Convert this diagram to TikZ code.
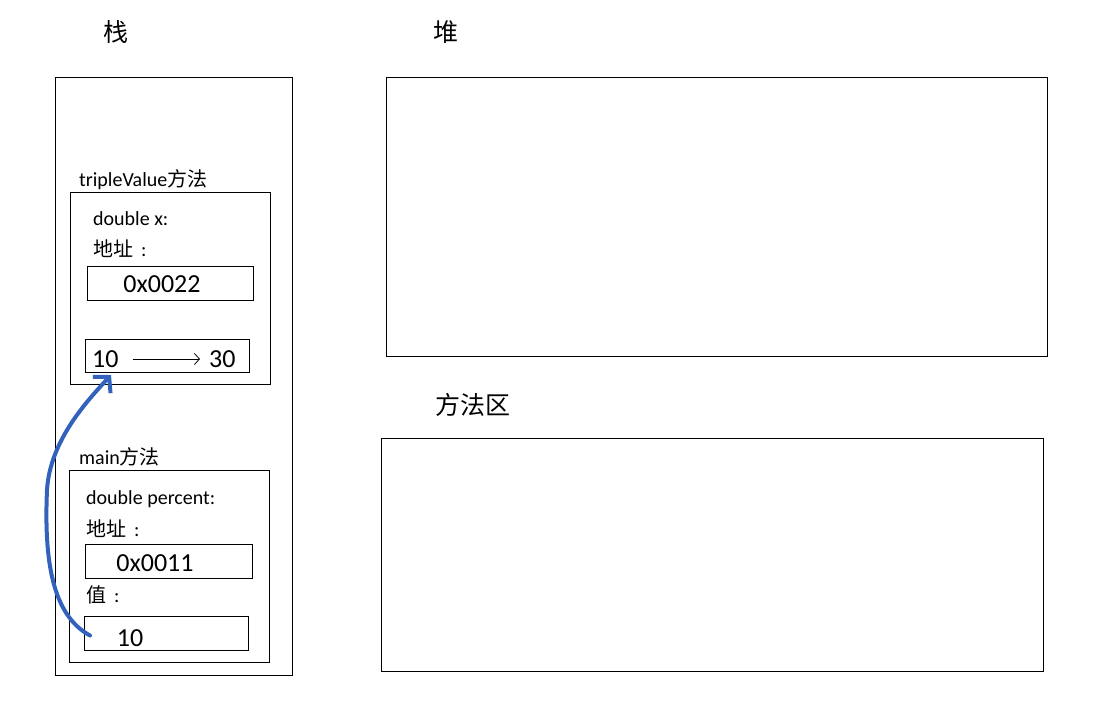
\documentclass[tikz,border=0pt]{standalone}
\usepackage{fontspec}
\setmainfont{Carlito}
\newfontfamily\cjk{Noto Sans CJK SC}
\usetikzlibrary{arrows.meta}
\definecolor{penblue}{RGB}{50,98,188}
\begin{document}
\begin{tikzpicture}[x=1pt,y=-1pt,
  box/.style={draw,line width=1pt,inner sep=0pt,anchor=north west},
  lbl/.style={font=\fontsize{20}{23}\selectfont,inner sep=0pt,anchor=west},
  val/.style={font=\fontsize{26}{30}\selectfont,inner sep=0pt},
  ttl/.style={font=\cjk\fontsize{25}{30}\selectfont,inner sep=0pt}]
\useasboundingbox (0,0) rectangle (1096,702);
\node[ttl] (stacktitle) at (116,32) {栈};
\node[ttl] (heaptitle) at (446,32) {堆};
\node[ttl] (methodtitle) at (473,405) {方法区};
\node[box,minimum width=237,minimum height=598] (stack) at (55,77) {};
\node[box,minimum width=661,minimum height=279] (heap) at (386,77) {};
\node[box,minimum width=662,minimum height=233] (method) at (381,438) {};
\node[lbl] (tvname) at (79,180) {tripleValue{\cjk 方法}};
\node[box,minimum width=200,minimum height=192] (tvframe) at (70,192) {};
\node[lbl] (tvvar) at (93,219) {double x:};
\node[lbl] (tvaddrlbl) at (93,249) {{\cjk 地址}\kern8pt:};
\node[box,minimum width=166,minimum height=34] (tvaddr) at (87,266) {};
\node[val] (tvaddrtxt) at (162,284) {0x0022};
\node[box,minimum width=164,minimum height=33] (tvval) at (85,339) {};
\node[val,anchor=west] (tvold) at (92,359) {10};
\node[val,anchor=west] (tvnew) at (209,359) {30};
\draw[line width=0.8pt,-{Straight Barb[length=5pt,width=11pt]},shorten <=14pt,shorten >=9pt] (tvold) -- (tvnew);
\node[lbl] (mainname) at (79,457) {main{\cjk 方法}};
\node[box,minimum width=200,minimum height=192] (mainframe) at (69,470) {};
\node[lbl] (mainvar) at (86,499) {double percent:};
\node[lbl] (mainaddrlbl) at (86,529) {{\cjk 地址}\kern8pt:};
\node[box,minimum width=167,minimum height=34] (mainaddr) at (85,544) {};
\node[val] (mainaddrtxt) at (155,563) {0x0011};
\node[lbl] (mainvallbl) at (86,595) {{\cjk 值}\kern8pt:};
\node[box,minimum width=164,minimum height=34] (mainval) at (84,616) {};
\node[val] (mainvaltxt) at (130,638) {10};
\draw[penblue,line width=4pt,line cap=round,-{Straight Barb[length=11pt,width=24pt,line width=4pt]}]
  ([xshift=6pt,yshift=-2pt]mainval.west) .. controls (52,615) and (44,560) .. (47,490)
  .. controls (50,440) and (88,400) .. ([xshift=26pt,yshift=-2pt]tvval.south west);
\end{tikzpicture}
\end{document}
